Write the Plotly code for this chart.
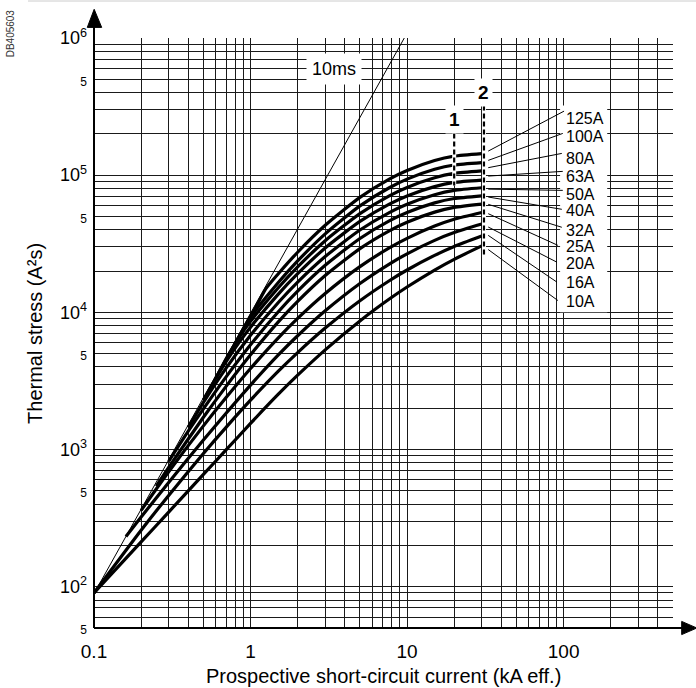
import math
import plotly.graph_objects as go

FONT = "Liberation Sans, Arial, sans-serif"

# ---------------- data (I in kA, I2t in A2s) ----------------
ratings = ["125A", "100A", "80A", "63A", "50A", "40A", "32A", "25A", "20A", "16A", "10A"]

i_125 = [0.8, 0.9, 1, 1.1, 1.26, 1.5, 2, 3, 5, 7.7, 10, 15, 20, 30]
e_125 = [5940, 7550, 9360, 11370, 15000, 19050, 27430, 43120, 68860, 93500, 108100, 127800, 137600, 143700]
i_100 = [0.7, 0.85, 1, 1.5, 2, 3, 5, 7.7, 10, 15, 20, 30]
e_100 = [4500, 6700, 9200, 16420, 23700, 37350, 59700, 81000, 93600, 110400, 118700, 123500]
i_80 = [0.6, 0.7, 0.85, 1, 1.5, 2, 3, 5, 7.7, 10, 15, 20, 30]
e_80 = [3300, 4600, 6630, 8600, 15050, 21450, 33310, 52500, 70700, 81440, 95790, 103000, 107500]
i_63 = [0.5, 0.6, 0.7, 0.85, 1, 1.5, 2, 3, 5, 7.7, 10, 15, 20, 30]
e_63 = [2300, 3310, 4400, 6100, 7800, 13520, 19140, 29470, 45990, 61500, 70600, 82550, 88500, 92000]
i_50 = [0.4, 0.5, 0.7, 1, 1.5, 2, 3, 5, 7.7, 10, 15, 20, 30]
e_50 = [1450, 2205, 3940, 6800, 11740, 16610, 25530, 39860, 53400, 61400, 72070, 77500, 81000]
i_40 = [0.3, 0.4, 0.5, 0.7, 1, 1.5, 2, 3, 5, 7.7, 10, 15, 20, 30]
e_40 = [820, 1360, 1980, 3400, 5800, 10060, 14270, 22030, 34540, 46400, 53410, 62800, 67560, 70700]
i_32 = [0.25, 0.3, 0.5, 0.7, 1, 1.5, 2, 3, 5, 7.7, 10, 15, 20, 30]
e_32 = [540, 740, 1720, 2900, 4900, 8480, 12010, 18540, 29140, 39300, 45410, 53770, 58210, 61500]
i_25 = [0.2, 0.3, 0.5, 0.7, 1, 1.5, 2, 3, 5, 7.7, 10, 15, 20, 30]
e_25 = [360, 688, 1487, 2403, 3900, 6494, 9031, 13720, 21540, 29500, 34650, 42550, 47660, 53400]
i_20 = [0.16, 0.2, 0.3, 0.5, 0.7, 1, 1.5, 2, 3, 5, 7.7, 10, 15, 20, 30]
e_20 = [232, 322, 576, 1173, 1846, 2950, 4872, 6750, 10260, 16230, 22500, 26710, 33470, 38140, 44000]
i_16 = [0.1, 0.2, 0.3, 0.5, 0.7, 1, 1.5, 2, 3, 5, 7.7, 10, 15, 20, 30]
e_16 = [90, 258, 463, 936, 1458, 2290, 3709, 5090, 7680, 12150, 17000, 20360, 26030, 30230, 36000]
i_10 = [0.1, 0.2, 0.3, 0.5, 0.7, 1, 1.5, 2, 3, 5, 7.7, 10, 15, 20, 30]
e_10 = [90, 212, 350, 658, 997, 1550, 2520, 3483, 5331, 8663, 12500, 15300, 20340, 24360, 30500]

curves_i = [i_125, i_100, i_80, i_63, i_50, i_40, i_32, i_25, i_20, i_16, i_10]
curves_e = [e_125, e_100, e_80, e_63, e_50, e_40, e_32, e_25, e_20, e_16, e_10]

# 10 ms line
ms_i = [0.1, 9.6]
ms_e = [89, 1000000]

# leader lines: start near curve end, end at label
lead_x0 = [33, 33, 33, 33, 33, 33, 33, 33, 33, 33, 33]
lead_y0 = [149800, 128200, 113400, 98500, 79100, 69300, 61300, 52400, 41900, 36400, 28700]
lead_x1 = [100.7, 98.8, 97.4, 98.8, 98.8, 97.4, 97.4, 91.9, 90.8, 90.8, 91.9]
lead_y1 = [293000, 201600, 144100, 106600, 77500, 56400, 41700, 30800, 23200, 16600, 12200]
label_x = 100.7
label_y = [258000, 191700, 133200, 98000, 72500, 55400, 39200, 30300, 22700, 16400, 12100]

# marker lines 1 and 2
mark_names = ["1", "2"]
mark_x = [20, 31]
mark_top = [201000, 322000]
mark_bot = [84000, 25300]
mark_lbl_y = [255000, 403000]

# 10 ms label position
ms_lbl_x = 3.43
ms_lbl_y = 594000

# axes ticks
x_lab_vals = [0.1, 1, 10, 100]
x_lab_text = ["0.1", "1", "10", "100"]
x_grid = [m * 10 ** k for k in range(-1, 2) for m in range(1, 10)] + [100, 200, 300, 400, 500]
y_grid = [m * 10 ** k for k in range(1, 6) for m in range(1, 10) if m * 10 ** k >= 50] + [1000000]


def ylab(v):
    for k in range(2, 7):
        if abs(v - 10 ** k) < 1e-6:
            return "10<sup>%d</sup>" % k
        if abs(v - 5 * 10 ** (k - 1)) < 1e-6:
            return "<span style='font-size:12px'>5</span>"
    return ""


def xlab(v):
    for a, t in zip(x_lab_vals, x_lab_text):
        if abs(v - a) < 1e-9:
            return t
    return ""


L = math.log10

fig = go.Figure()

# 10 ms line
fig.add_trace(go.Scatter(x=ms_i, y=ms_e, mode="lines",
                         line=dict(color="black", width=1), hoverinfo="skip", showlegend=False))

# curves
for xs, ys in zip(curves_i, curves_e):
    fig.add_trace(go.Scatter(x=xs, y=ys, mode="lines",
                             line=dict(color="black", width=3.2, shape="spline", smoothing=0.6),
                             hoverinfo="skip", showlegend=False))

# leader lines
for a, b, c, d in zip(lead_x0, lead_y0, lead_x1, lead_y1):
    fig.add_trace(go.Scatter(x=[a, c], y=[b, d], mode="lines",
                             line=dict(color="black", width=1), hoverinfo="skip", showlegend=False))

# dashed marker lines (white underlay + black dashes)
for mx, t, b in zip(mark_x, mark_top, mark_bot):
    fig.add_trace(go.Scatter(x=[mx, mx], y=[t, b], mode="lines",
                             line=dict(color="white", width=4), hoverinfo="skip", showlegend=False))
    fig.add_trace(go.Scatter(x=[mx, mx], y=[t, b], mode="lines",
                             line=dict(color="black", width=2.2, dash="5px,3px"),
                             hoverinfo="skip", showlegend=False))

shapes = []
# white block behind the rating labels (over the grid, under the leaders)
shapes.append(dict(type="rect", xref="x", yref="y", x0=95, x1=190, y0=10000, y1=322000,
                   fillcolor="white", line=dict(width=0), layer="between"))
# axis lines, extensions and arrows
shapes.append(dict(type="line", xref="paper", yref="paper", x0=0, x1=0, y0=0, y1=1.02,
                   line=dict(color="black", width=2)))
shapes.append(dict(type="path", xref="paper", yref="paper",
                   path="M -0.0116 1.018 L 0.0133 1.018 L 0.0003 1.0486 Z",
                   fillcolor="black", line=dict(color="black", width=1)))
shapes.append(dict(type="line", xref="paper", yref="paper", x0=0, x1=1.02, y0=0, y1=0,
                   line=dict(color="black", width=2)))
shapes.append(dict(type="path", xref="paper", yref="paper",
                   path="M 1.015 0.0112 L 1.015 -0.0112 L 1.0412 0 Z",
                   fillcolor="black", line=dict(color="black", width=1)))
# faint frame line at top of picture
shapes.append(dict(type="line", xref="paper", yref="paper", x0=-0.114, x1=1.05, y0=1.0627, y1=1.0627,
                   line=dict(color="#cccccc", width=1)))

annotations = []
for name, yv in zip(ratings, label_y):
    annotations.append(dict(x=L(label_x), y=L(yv), xref="x", yref="y", text=name, showarrow=False,
                            xanchor="left", yanchor="middle",
                            font=dict(family=FONT, size=16, color="black")))
for name, mx, yv in zip(mark_names, mark_x, mark_lbl_y):
    annotations.append(dict(x=L(mx), y=L(yv), xref="x", yref="y", text="<b>%s</b>" % name,
                            showarrow=False, xanchor="center", yanchor="middle",
                            bgcolor="white", borderpad=3,
                            font=dict(family=FONT, size=19, color="black")))
annotations.append(dict(x=L(ms_lbl_x), y=L(ms_lbl_y), xref="x", yref="y", text="10ms", showarrow=False,
                        xanchor="center", yanchor="middle", bgcolor="white", borderpad=5,
                        font=dict(family=FONT, size=18, color="black")))
annotations.append(dict(x=0.5, y=-0.081, xref="paper", yref="paper",
                        text="Prospective short-circuit current (kA eff.)", showarrow=False,
                        xanchor="center", yanchor="middle",
                        font=dict(family=FONT, size=20, color="black")))
annotations.append(dict(x=-0.102, y=0.5, xref="paper", yref="paper", textangle=-90,
                        text="Thermal stress (A²s)", showarrow=False,
                        xanchor="center", yanchor="middle",
                        font=dict(family=FONT, size=20, color="black")))
annotations.append(dict(x=-0.145, y=1.008, xref="paper", yref="paper", textangle=-90,
                        text="DB405603", showarrow=False, xanchor="center", yanchor="middle",
                        font=dict(family=FONT, size=10, color="#333333")))

fig.update_layout(
    width=696, height=688,
    margin=dict(l=94, r=23, t=38, b=60),
    paper_bgcolor="white", plot_bgcolor="white",
    showlegend=False,
    shapes=shapes, annotations=annotations,
    xaxis=dict(type="log", range=[-1, 2.69897], tickmode="array", tickvals=x_grid,
               ticktext=[xlab(v) for v in x_grid], showgrid=True, gridcolor="#1a1a1a", gridwidth=1,
               zeroline=False, showline=False, ticks="", ticklabelstandoff=10,
               tickfont=dict(family=FONT, size=19, color="black")),
    yaxis=dict(type="log", range=[1.69897, 6], tickmode="array", tickvals=y_grid,
               ticktext=[ylab(v) for v in y_grid], showgrid=True, gridcolor="#1a1a1a", gridwidth=1,
               zeroline=False, showline=False, ticks="", ticklabelstandoff=6,
               tickfont=dict(family=FONT, size=18, color="black")),
)

fig.write_html("out.html", config={"displayModeBar": False},
               post_script="document.body.style.margin='0px';")
